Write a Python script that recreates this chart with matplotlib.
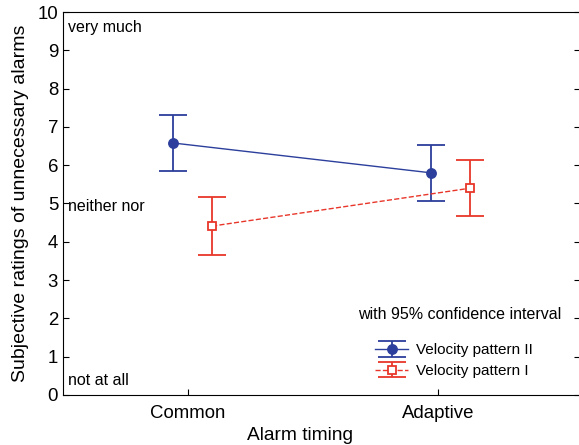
import matplotlib.pyplot as plt

plt.rcParams['font.family'] = ['Liberation Sans', 'DejaVu Sans']

# Data
conditions = ["Common", "Adaptive"]
pattern2_mean = [6.58, 5.80]
pattern2_low = [5.85, 5.07]
pattern2_high = [7.31, 6.53]
pattern1_mean = [4.41, 5.40]
pattern1_low = [3.66, 4.67]
pattern1_high = [5.17, 6.14]

blue = "#2c3f9c"
red = "#e8362a"

fig = plt.figure(figsize=(5.79, 4.45), dpi=100)
# right spine sits just past the image edge in the reference
ax = fig.add_axes([0.1088, 0.1124, 0.8935, 0.8606])

base = list(range(len(conditions)))
x2 = [b + o for b, o in zip(base, [-0.06, -0.028])]
x1 = [b + o for b, o in zip(base, [0.096, 0.128])]

err2 = [[m - lo for m, lo in zip(pattern2_mean, pattern2_low)],
        [hi - m for m, hi in zip(pattern2_mean, pattern2_high)]]
err1 = [[m - lo for m, lo in zip(pattern1_mean, pattern1_low)],
        [hi - m for m, hi in zip(pattern1_mean, pattern1_high)]]

ax.errorbar(x2, pattern2_mean, yerr=err2, color=blue, lw=1.0, elinewidth=1.3,
            capsize=10, capthick=1.3, marker='o', markersize=6.8,
            label="Velocity pattern II")
ax.errorbar(x1, pattern1_mean, yerr=err1, color=red, lw=1.0, ls='--',
            elinewidth=1.3, capsize=10, capthick=1.3, marker='s',
            markersize=5.6, markerfacecolor='white', markeredgewidth=1.3,
            label="Velocity pattern I")

ax.set_xlim(-0.5, 1.568)
ax.set_ylim(0, 10)
ax.set_xticks(base)
ax.set_xticklabels(conditions)
ax.set_yticks(range(0, 11))
ax.tick_params(direction='in', length=4, labelsize=13.4, right=True)
ax.tick_params(axis='x', pad=7)
ax.set_xlabel("Alarm timing", fontsize=13.8)
ax.xaxis.set_label_coords(0.458, -0.083)
ax.set_ylabel("Subjective ratings of unnecessary alarms", fontsize=14, labelpad=6)

ax.text(-0.48, 9.6, "very much", fontsize=11.5, va='center')
ax.text(-0.48, 4.93, "neither nor", fontsize=11.5, va='center')
ax.text(-0.48, 0.37, "not at all", fontsize=11.5, va='center')
ax.text(0.571, 0.209, "with 95% confidence interval", fontsize=11.5,
        va='center', transform=ax.transAxes)

ax.legend(loc='upper left', bbox_to_anchor=(0.588, 0.155), frameon=False,
          fontsize=11, handlelength=2.2, handletextpad=0.5, labelspacing=0.45,
          borderpad=0)

fig.savefig("out.png", dpi=100)
